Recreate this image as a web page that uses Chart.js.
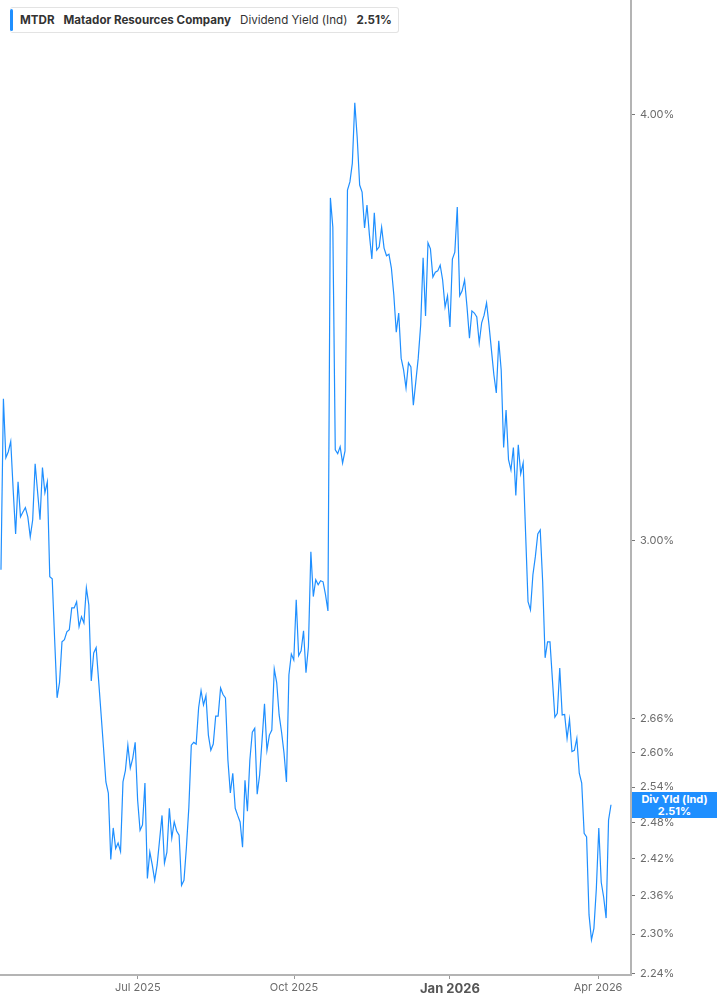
<!DOCTYPE html>
<html>
<head>
<meta charset="utf-8">
<title>MTDR Dividend Yield (Ind)</title>
<script src="https://cdn.jsdelivr.net/npm/chart.js@4.4.1/dist/chart.umd.min.js"></script>
<style>
  body { margin: 0; background: #fff; font-family: Inter, "Noto Sans", sans-serif; }
  #wrap { position: relative; width: 717px; height: 1005px; }
  #legendBox {
    position: absolute; left: 10px; top: 7px; height: 26px;
    box-sizing: border-box; border: 1px solid #e3e3e3; border-left: none; border-radius: 3px;
    background: #fff; display: flex; align-items: center; padding: 0 6px 0 10px;
    font-size: 11.6px; color: #333; white-space: nowrap;
  }
  #legendBox .bar { position: absolute; left: 0; top: 1px; bottom: 1px; width: 3px; background: #1f8fff; border-radius: 2px; }
  #legendBox b { font-weight: 700; }
  #legendBox span { margin-right: 9px; }
  #legendBox span:last-child { margin-right: 0; }
  #lastBox {
    position: absolute; left: 632px; width: 85px; height: 26px;
    background: #1f8fff; color: #fff; font-size: 11px; font-weight: 700;
    text-align: center; line-height: 12px; box-sizing: border-box; padding-top: 1px;
  }
</style>
</head>
<body>
<div id="wrap">
  <canvas id="myChart"></canvas>
  <div id="legendBox"><div class="bar"></div><span><b>MTDR</b></span><span><b>Matador Resources Company</b></span><span>Dividend Yield (Ind)</span><span><b>2.51%</b></span></div>
  <div id="lastBox">Div Yld (Ind)<br>2.51%</div>
</div>
<script>
// dividend yield, % - one value per trading day, mid Apr 2025 -> early Apr 2026
var rendimento = [
  2.942, 3.302, 3.173, 3.186, 3.208, 3.105, 3.014, 3.122, 3.049, 3.059,
  3.068, 3.049, 3.008, 3.043, 3.160, 3.101, 3.043, 3.152, 3.099, 3.122,
  2.928, 2.924, 2.806, 2.698, 2.726, 2.802, 2.806, 2.821, 2.825, 2.867,
  2.867, 2.879, 2.831, 2.850, 2.838, 2.906, 2.873, 2.729, 2.781, 2.791,
  2.731, 2.670, 2.610, 2.549, 2.530, 2.419, 2.471, 2.437, 2.446, 2.432,
  2.549, 2.569, 2.613, 2.573, 2.590, 2.618, 2.518, 2.467, 2.476, 2.547,
  2.388, 2.431, 2.410, 2.385, 2.410, 2.451, 2.492, 2.413, 2.431, 2.504,
  2.454, 2.481, 2.466, 2.459, 2.377, 2.385, 2.439, 2.506, 2.613, 2.618,
  2.615, 2.680, 2.711, 2.685, 2.702, 2.631, 2.604, 2.615, 2.665, 2.665,
  2.716, 2.704, 2.698, 2.587, 2.530, 2.564, 2.504, 2.492, 2.481, 2.439,
  2.552, 2.499, 2.587, 2.636, 2.643, 2.528, 2.561, 2.622, 2.687, 2.604,
  2.631, 2.640, 2.751, 2.726, 2.667, 2.636, 2.599, 2.549, 2.740, 2.779,
  2.768, 2.883, 2.776, 2.785, 2.823, 2.744, 2.793, 2.978, 2.889, 2.922,
  2.912, 2.920, 2.918, 2.893, 2.861, 3.782, 3.708, 3.190, 3.182, 3.197,
  3.162, 3.188, 3.802, 3.823, 3.872, 4.033, 3.938, 3.815, 3.797, 3.706,
  3.764, 3.688, 3.629, 3.744, 3.651, 3.659, 3.708, 3.656, 3.637, 3.641,
  3.607, 3.542, 3.454, 3.499, 3.394, 3.367, 3.326, 3.383, 3.374, 3.288,
  3.340, 3.394, 3.471, 3.632, 3.492, 3.669, 3.654, 3.585, 3.597, 3.600,
  3.614, 3.578, 3.513, 3.540, 3.466, 3.629, 3.646, 3.759, 3.540, 3.552,
  3.578, 3.513, 3.440, 3.504, 3.499, 3.490, 3.429, 3.476, 3.494, 3.523,
  3.471, 3.413, 3.356, 3.315, 3.434, 3.367, 3.195, 3.277, 3.169, 3.147,
  3.195, 3.093, 3.201, 3.139, 3.162, 3.016, 2.879, 2.863, 2.932, 2.968,
  3.014, 3.022, 2.918, 2.772, 2.802, 2.802, 2.731, 2.663, 2.670, 2.753,
  2.667, 2.668, 2.625, 2.659, 2.602, 2.604, 2.625, 2.564, 2.547, 2.462,
  2.456, 2.330, 2.291, 2.309, 2.372, 2.471, 2.382, 2.358, 2.325, 2.484,
  2.51
];
var ultimo = 2.51;

// ticks
var yTicks = [2.24, 2.30, 2.36, 2.42, 2.48, 2.54, 2.60, 2.66, 3.00, 4.00];
var xTickLabels = ['Jul 2025', 'Oct 2025', 'Jan 2026', 'Apr 2026'];
var xTickIdx = [56.1, 120.1, 184, 244.7];   // trading-day position of the 1st of the month

var pontos = rendimento.map(function (v, i) { return { x: i, y: v }; });

var corLinha = '#1f8fff';
var corEixo = '#b4b4b4';

var posLabel = {
  id: 'posLabel',
  afterRender: function (chart) {
    var y = chart.scales.y.getPixelForValue(ultimo);
    document.getElementById('lastBox').style.top = (y - 13) + 'px';
  }
};

var config = {
  type: 'line',
  data: {
    datasets: [{
      label: 'Div Yld (Ind)',
      data: pontos,
      borderColor: corLinha,
      borderWidth: 1.2,
      pointRadius: 0,
      tension: 0,
      fill: false
    }]
  },
  options: {
    animation: false,
    responsive: true,
    maintainAspectRatio: false,
    devicePixelRatio: 1,
    layout: { padding: 0 },
    plugins: { legend: { display: false }, tooltip: { enabled: false } },
    scales: {
      x: {
        type: 'linear',
        min: -0.4,
        max: 258.2,
        afterBuildTicks: function (scale) {
          scale.ticks = xTickIdx.map(function (v) { return { value: v }; });
        },
        afterFit: function (scale) {
          scale.height = 30;
          scale.paddingLeft = 0;
          scale.paddingRight = 0;
        },
        border: { display: true, color: corEixo, width: 2 },
        grid: { drawOnChartArea: false, drawTicks: true, tickLength: 4, tickColor: '#999' },
        ticks: {
          autoSkip: false,
          maxRotation: 0,
          padding: 2,
          color: function (ctx) { return ctx.index === 2 ? '#555' : '#6b6b6b'; },
          font: function (ctx) {
            return ctx.index === 2
              ? { family: 'Inter', size: 13, weight: 'bold' }
              : { family: 'Inter', size: 11 };
          },
          callback: function (val, idx) { return xTickLabels[idx]; }
        }
      },
      y: {
        type: 'logarithmic',
        position: 'right',
        min: 2.2373,
        max: 4.323,
        bounds: 'data',
        afterBuildTicks: function (scale) {
          scale.ticks = yTicks.map(function (v) { return { value: v }; });
        },
        afterFit: function (scale) {
          scale.width = 86;
          scale.paddingTop = 0;
          scale.paddingBottom = 0;
        },
        border: { display: true, color: corEixo, width: 2 },
        grid: { drawOnChartArea: false, drawTicks: true, tickLength: 4, tickColor: '#777' },
        ticks: {
          autoSkip: false,
          padding: 5,
          color: '#6b6b6b',
          font: { family: 'Inter', size: 11 },
          callback: function (val) { return Number(val).toFixed(2) + '%'; }
        }
      }
    }
  },
  plugins: [posLabel]
};

window.myChart = new Chart(document.getElementById('myChart'), config);
</script>
</body>
</html>
